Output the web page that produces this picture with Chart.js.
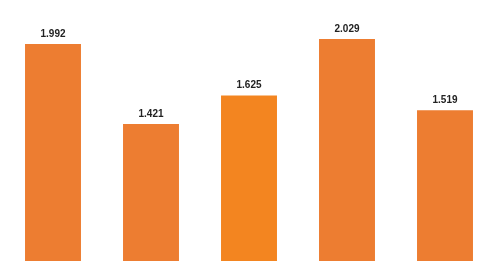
<!DOCTYPE html>
<html>
<head>
<meta charset="utf-8">
<script src="https://cdn.jsdelivr.net/npm/chart.js@4/dist/chart.umd.min.js"></script>
<style>
  html, body { margin: 0; padding: 0; background: #ffffff; }
  #wrap { width: 497px; height: 261px; position: relative; }
</style>
</head>
<body>
<div id="wrap"><canvas id="barChart"></canvas></div>
<script>
// Chart data
const categories = ['A', 'B', 'C', 'D', 'E'];
const values = [1.992, 1.421, 1.625, 2.029, 1.519];
const valueLabels = ['1.992', '1.421', '1.625', '2.029', '1.519'];
const barColors = ['#ED7D31', '#ED7D31', '#F38520', '#ED7D31', '#ED7D31'];

// Labels above each bar
const topLabels = {
    id: 'topLabels',
    afterDatasetsDraw(chart) {
        const ctx = chart.ctx;
        const meta = chart.getDatasetMeta(0);
        ctx.save();
        ctx.font = 'bold 10px "Liberation Sans", Arial, sans-serif';
        ctx.fillStyle = '#222222';
        ctx.textAlign = 'center';
        ctx.textBaseline = 'bottom';
        meta.data.forEach((bar, i) => {
            ctx.fillText(valueLabels[i], bar.x, bar.y - 5);
        });
        ctx.restore();
    }
};

const ctx = document.getElementById('barChart').getContext('2d');

const barChart = new Chart(ctx, {
    type: 'bar',
    data: {
        labels: categories,
        datasets: [{
            data: values,
            backgroundColor: barColors,
            borderWidth: 0,
            barPercentage: 0.571,
            categoryPercentage: 1.0
        }]
    },
    options: {
        responsive: true,
        maintainAspectRatio: false,
        animation: false,
        layout: {
            padding: { left: 4, right: 3, top: 0, bottom: 0 }
        },
        scales: {
            x: { display: false },
            y: { display: false, min: 0.443, max: 2.307 }
        },
        plugins: {
            legend: { display: false },
            tooltip: { enabled: false }
        }
    },
    plugins: [topLabels]
});
</script>
</body>
</html>
